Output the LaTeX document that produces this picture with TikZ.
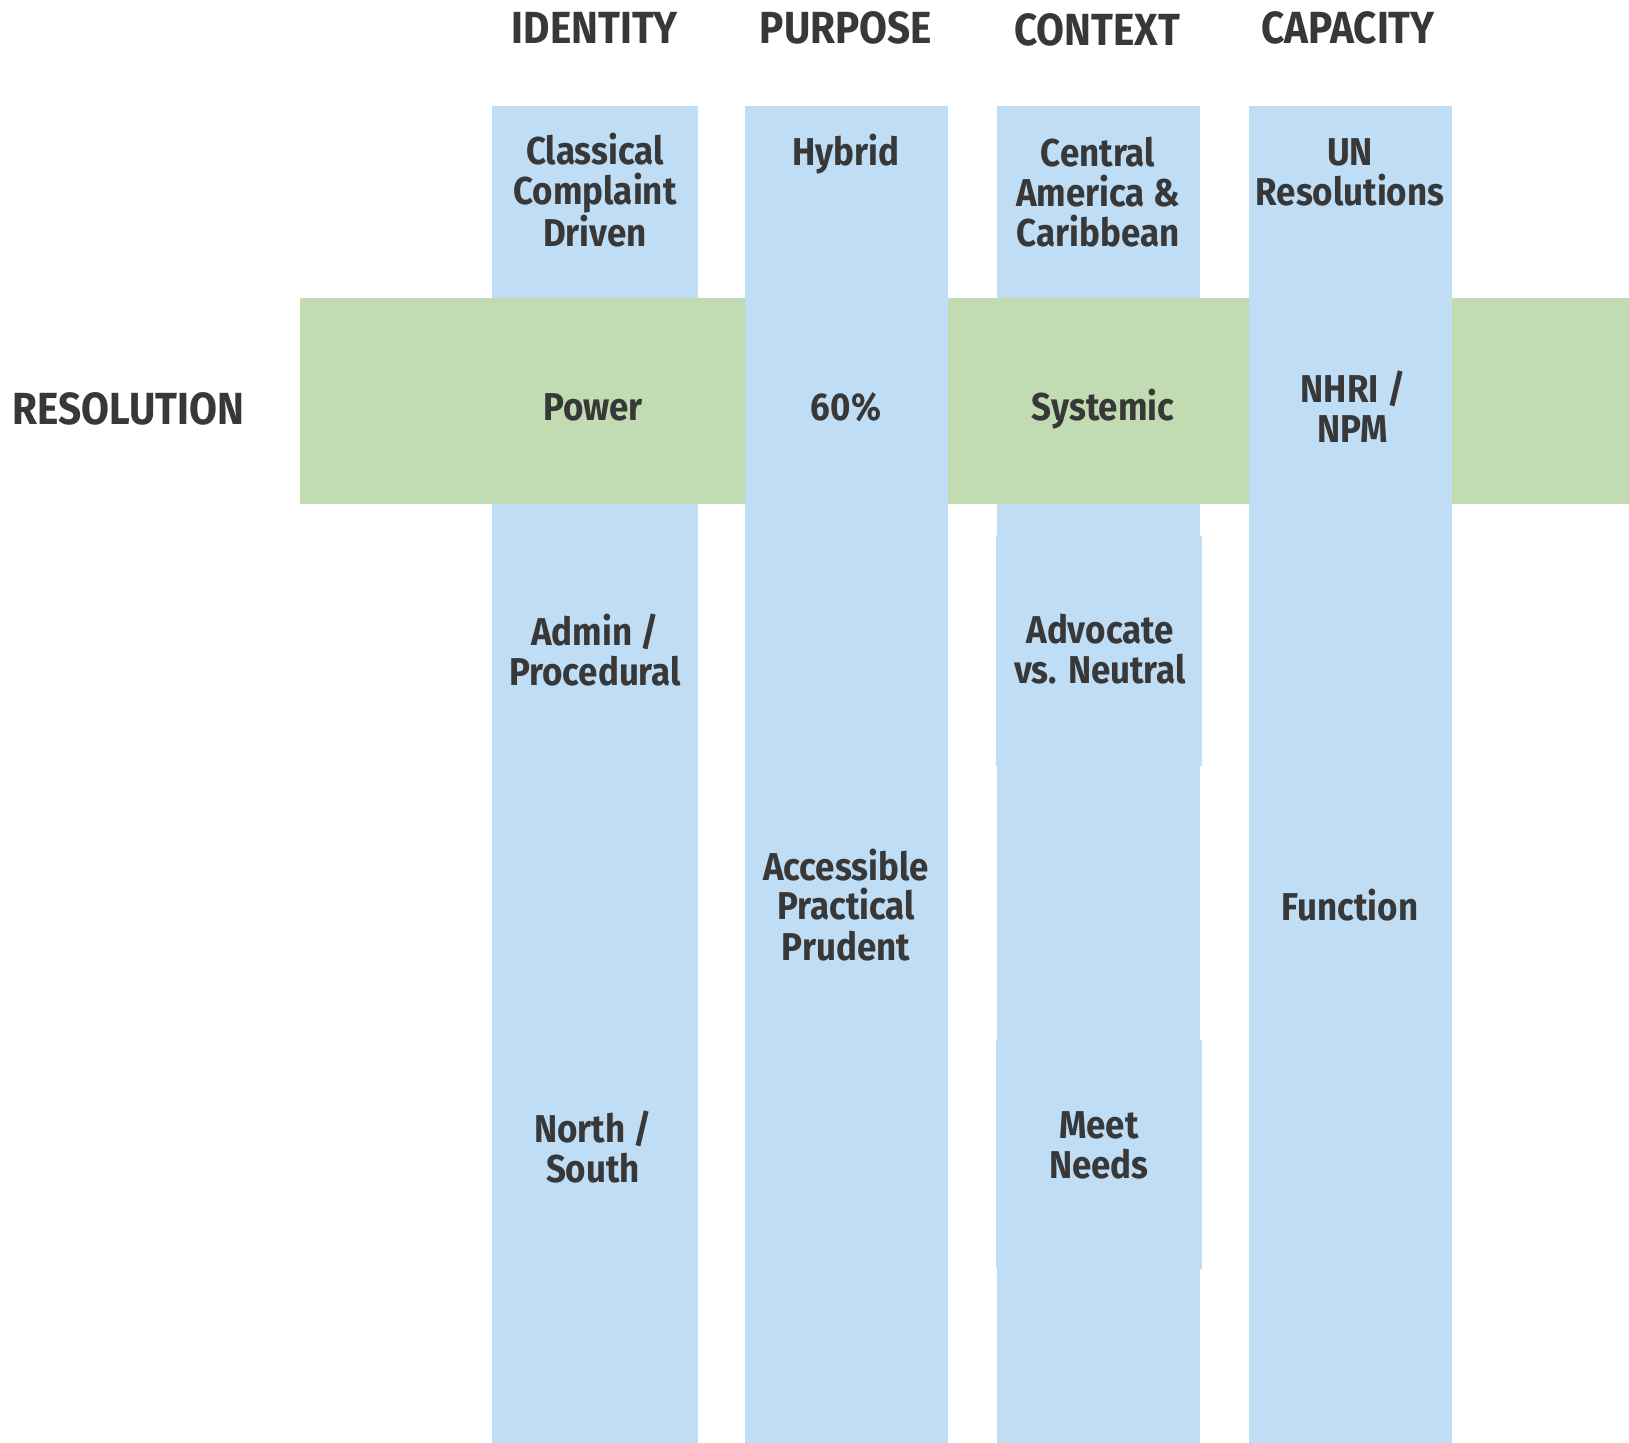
\documentclass[tikz,border=0pt]{standalone}
\usepackage{fontspec}
\setmainfont{Fira Sans}[FakeStretch=0.9]
\definecolor{colblue}{HTML}{BFDDF5}
\definecolor{bandgreen}{HTML}{C1DCB3}
\definecolor{ink}{HTML}{383838}
\begin{document}
\begin{tikzpicture}[x=0.5pt,y=-0.5pt,
  every node/.style={font=\bfseries\fontsize{19.4}{20}\selectfont,
    text=ink, align=center, anchor=base, inner sep=0pt},
  head/.style={font=\bfseries\fontsize{22.5}{24}\selectfont},
  ]
\useasboundingbox (0,0) rectangle (1629,1443);
% columns under the band
\fill[colblue] (492,106) rectangle (698,1443);
\fill[colblue] (997,106) rectangle (1200,1443);
\fill[colblue] (996,536) rectangle (1202,766);
\fill[colblue] (996,1040) rectangle (1202,1269);
\fill[bandgreen] (300,298) rectangle (1629,504);
% columns over the band
\fill[colblue] (745,106) rectangle (948,1443);
\fill[colblue] (1249,106) rectangle (1452,1443);

\node[head] (identity) at (595,44) {IDENTITY};
\node[head] (purpose) at (846,44) {PURPOSE};
\node[head] (context) at (1097,46) {CONTEXT};
\node[head] (capacity) at (1348,44) {CAPACITY};
\node[head,anchor=base west] (resolution) at (12,425) {RESOLUTION};

% base = last line
\node (classical) at (595,247) {Classical\\Complaint\\Driven};
\node (power) at (593,421) {Power};
\node (admin) at (595,686) {Admin /\\Procedural};
\node (north) at (593,1182) {North /\\South};

\node (hybrid) at (846,166) {Hybrid};
\node (sixty) at (846,421) {60\%};
\node (accessible) at (846,960) {Accessible\\Practical\\Prudent};

\node (central) at (1098,247) {Central\\America \&\\Caribbean};
\node (systemic) at (1103,421) {Systemic};
\node (advocate) at (1100,684) {Advocate\\vs. Neutral};
\node (meet) at (1099,1178) {Meet\\Needs};

\node (un) at (1350,206) {UN\\Resolutions};
\node (nhri) at (1353,443) {NHRI /\\NPM};
\node (function) at (1350,921) {Function};
\end{tikzpicture}
\end{document}
